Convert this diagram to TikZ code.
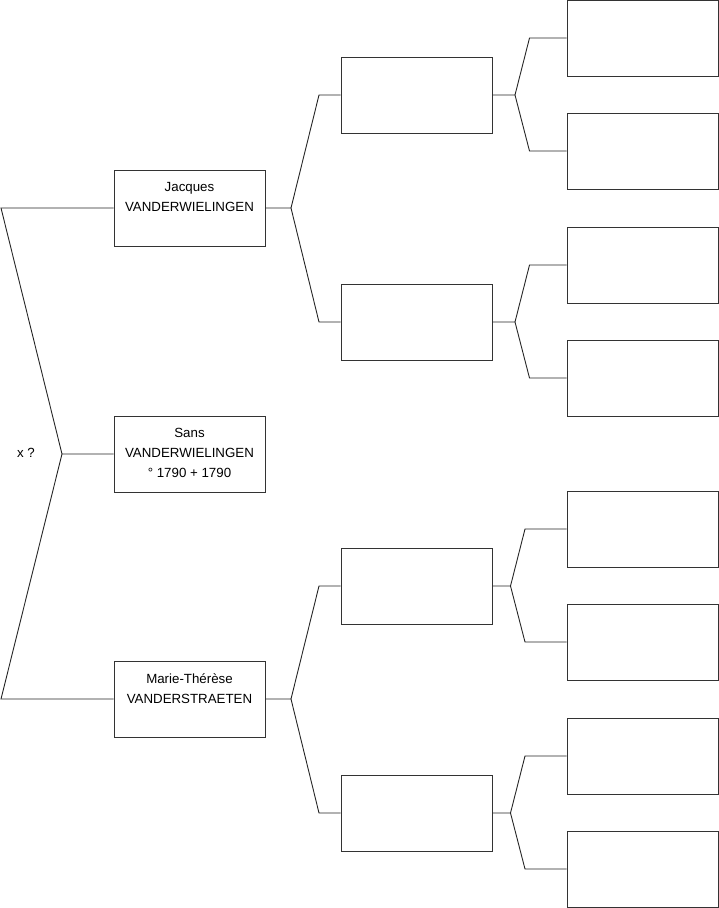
\documentclass[tikz,border=0pt]{standalone}
\usepackage{fontspec}
\setmainfont{Liberation Sans}
\usetikzlibrary{positioning,calc}

\begin{document}
\begin{tikzpicture}[x=1pt, y=-1pt,
    person/.style={rectangle, draw=black!80, line width=1pt, fill=white,
                   minimum width=151pt, minimum height=76pt, inner sep=0pt},
    pname/.style={font=\fontsize{13.3}{20}\selectfont, align=center,
                  anchor=north, inner sep=0pt},
    tie/.style={draw=black!85, line width=0.9pt}
  ]
  \useasboundingbox (0,0) rectangle (719,908);

  % generation 1
  \node[person] (jac)  at (189.5,208) {};
  \node[person] (sans) at (189.5,454) {};
  \node[person] (mt)   at (189.5,699) {};
  \node[pname] (jacT)  at ($(jac.north)+(0,13)$)  {Jacques\\VANDERWIELINGEN};
  \node[pname] (sansT) at ($(sans.north)+(0,13)$) {Sans\\VANDERWIELINGEN\\° 1790 + 1790};
  \node[pname] (mtT)   at ($(mt.north)+(0,13)$)   {Marie-Thérèse\\VANDERSTRAETEN};

  % generation 2
  \node[person] (p1) at (416.5,95)  {};
  \node[person] (p2) at (416.5,322) {};
  \node[person] (p3) at (416.5,586) {};
  \node[person] (p4) at (416.5,813) {};

  % generation 3
  \node[person] (q1) at (642.5,38)  {};
  \node[person] (q2) at (642.5,151) {};
  \node[person] (q3) at (642.5,265) {};
  \node[person] (q4) at (642.5,378) {};
  \node[person] (q5) at (642.5,529) {};
  \node[person] (q6) at (642.5,642) {};
  \node[person] (q7) at (642.5,756) {};
  \node[person] (q8) at (642.5,869) {};

  % couple
  \coordinate (cpl) at (62,454);
  \node[font=\fontsize{13.3}{20}\selectfont, inner sep=0pt] (xq) at (26,453) {x ?};
  \draw[tie] (jac.west) -- (1,208) -- (cpl) -- (sans.west);
  \draw[tie] (cpl) -- (1,699) -- (mt.west);

  % forks
  \coordinate (fj) at (291,208);
  \coordinate (fm) at (291,699);
  \draw[tie] (jac.east) -- (fj) -- (319,95)  -- (p1.west);
  \draw[tie] (fj) -- (319,322) -- (p2.west);
  \draw[tie] (mt.east) -- (fm) -- (319,586)  -- (p3.west);
  \draw[tie] (fm) -- (319,813) -- (p4.west);

  \coordinate (f1) at (515,95);
  \coordinate (f2) at (515,322);
  \coordinate (f3) at (510.5,586);
  \coordinate (f4) at (510.5,813);
  \draw[tie] (p1.east) -- (f1) -- (529.5,38)  -- (q1.west);
  \draw[tie] (f1) -- (529.5,151) -- (q2.west);
  \draw[tie] (p2.east) -- (f2) -- (529.5,265) -- (q3.west);
  \draw[tie] (f2) -- (529.5,378) -- (q4.west);
  \draw[tie] (p3.east) -- (f3) -- (525,529) -- (q5.west);
  \draw[tie] (f3) -- (525,642) -- (q6.west);
  \draw[tie] (p4.east) -- (f4) -- (525,756) -- (q7.west);
  \draw[tie] (f4) -- (525,869) -- (q8.west);
\end{tikzpicture}
\end{document}
